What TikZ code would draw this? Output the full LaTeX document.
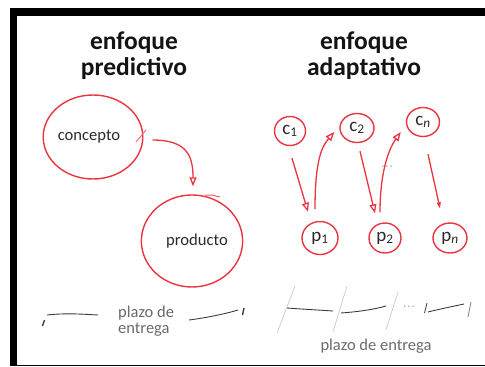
\documentclass[tikz,border=0pt]{standalone}
\usepackage{fontspec}
\setmainfont{Carlito}
\usetikzlibrary{shapes.geometric,arrows.meta,calc}
\definecolor{penred}{HTML}{EA3440}
\definecolor{txtdark}{HTML}{2A2A2A}
\definecolor{txtgray}{HTML}{6A6A6A}
\definecolor{lightline}{HTML}{CFCFCF}
\definecolor{darkline}{HTML}{3C3C3C}
\tikzset{
  ring/.style={draw=penred, line width=1.4pt, ellipse, inner sep=0pt, text=txtdark},
  bigring/.style={ring, font=\fontsize{16.6}{18}\selectfont},
  smallring/.style={ring, font=\fontsize{19}{19}\selectfont},
  titletxt/.style={font=\fontsize{25.5}{26}\selectfont\bfseries, text=black!92, align=center, inner sep=0pt},
  penarrow/.style={draw=penred, line width=1.3pt, -{Triangle[open, length=9pt, width=7pt]}},
  timeline/.style={draw=darkline, line width=0.9pt},
  sepline/.style={draw=lightline, line width=0.8pt},
  labeltxt/.style={font=\fontsize{16.5}{16}\selectfont, text=txtgray, inner sep=0pt},
  dotstxt/.style={font=\fontsize{10}{10}\selectfont, text=txtgray!70, inner sep=0pt}
}
\begin{document}
\begin{tikzpicture}[x=1pt, y=-1pt]
\useasboundingbox (0,0) rectangle (485,367);
% frame
\fill[black] (10,8) rectangle (485,16);
\fill[black] (10,8) rectangle (17,366);
\fill[black] (10,364.5) rectangle (485,366);

% titles
\node[titletxt] (t1) at (134,56) {enfoque\\predictivo};
\node[titletxt] (t2) at (364,56) {enfoque\\adaptativo};

% predictive
\node[bigring, minimum width=88pt, minimum height=84pt] (concepto) at (93,137) {concepto\hspace*{8pt}};
\node[bigring, minimum width=94pt, minimum height=92pt] (producto) at (192,241) {\hspace*{10pt}producto};
\draw[draw=penred!70, line width=1pt] (136,142) -- (146,130);
\draw[draw=penred!80, line width=1pt] (205,195) .. controls (212,195) .. (220,197);
\draw[penarrow] ($(concepto.east)+(9,3)$) .. controls +(35,0) and +(0,-30) .. ($(producto.north)+(1,-8)$);

% adaptive
\node[smallring, minimum width=31pt, minimum height=29pt] (c1) at (290,131) {c\textsubscript{1}};
\node[smallring, minimum width=34pt, minimum height=29pt] (c2) at (357,128) {c\textsubscript{2}};
\node[smallring, minimum width=33pt, minimum height=29pt] (cn) at (423,122) {c\textsubscript{\itshape n}};
\node[smallring, minimum width=36pt, minimum height=33pt] (p1) at (320,238) {p\textsubscript{1}};
\node[smallring, minimum width=32pt, minimum height=30pt] (p2) at (385,238) {p\textsubscript{2}};
\node[smallring, minimum width=34pt, minimum height=30pt] (pn) at (450,238) {p\textsubscript{\itshape n}};

\draw[penarrow] ($(c1.south)+(2,12)$) -- ($(p1.north)+(-12,-9)$);
\draw[penarrow] ($(p1.north)+(-5,-12)$) .. controls +(0,-50) and +(-12,14) .. ($(c2.west)+(-5,4)$);
\draw[penarrow] ($(c2.south)+(3,8)$) -- ($(p2.north)+(-10,-9)$);
\draw[penarrow] ($(p2.north)+(-5,-10)$) .. controls +(0,-45) and +(-10,14) .. ($(cn.west)+(-5,10)$);
\draw[penarrow, -{Triangle[open, length=6pt, width=4pt]}] ($(cn.south)+(5,17)$) -- ($(pn.north)+(-10,-14)$);
\node[dotstxt] (dots1) at (387,168) {·\,·\,·};

% bottom left timeline
\coordinate (la) at (47,315);
\coordinate (lb) at (98,315);
\coordinate (ra) at (189,320);
\coordinate (rb) at (238,310);
\draw[timeline] (la) .. controls (65,313) and (80,314) .. (lb);
\draw[timeline, line width=1.4pt] (42.5,326) -- (44.5,320);
\draw[timeline] (ra) .. controls (205,318) and (225,314) .. (rb);
\draw[timeline, line width=1.4pt] (244,308) -- (242.5,315);
\node[labeltxt, align=left, anchor=north west] (plazo1) at (118,306) {plazo de\\entrega};

% bottom right timeline
\draw[sepline] (295,286) -- (277,333);
\draw[sepline] (347,286) -- (333,332);
\draw[sepline] (398,292) -- (386,330);
\draw[sepline, draw=gray] (471,302) -- (468,317);
\draw[timeline] (287,308) .. controls (300,309) and (318,310) .. (333,311);
\draw[timeline] (341,313) .. controls (355,312) and (372,310) .. (386,306);
\node[dotstxt] (dots2) at (409,308) {·\,·\,·};
\draw[timeline, line width=0.8pt] (427,303) -- (424.5,313);
\draw[timeline] (428,312) .. controls (440,309) and (450,307) .. (464,304);
\node[labeltxt] (plazo2) at (376,346) {plazo de entrega};
\end{tikzpicture}
\end{document}
